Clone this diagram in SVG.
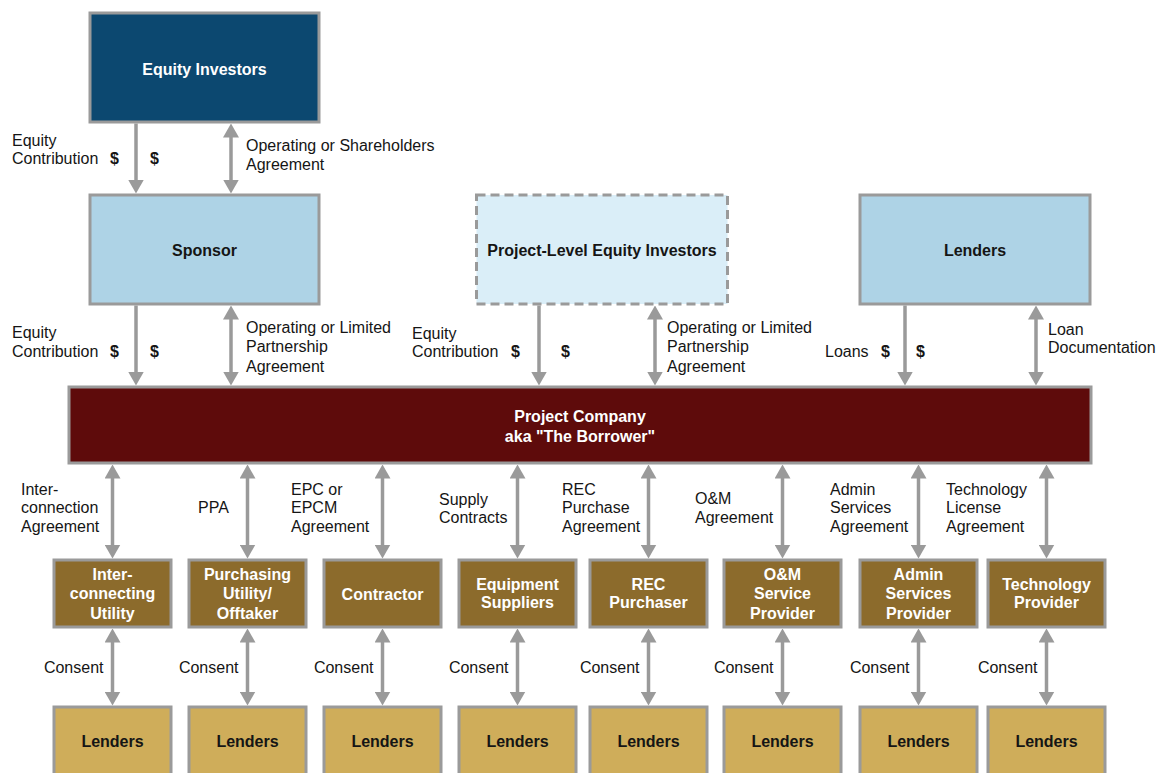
<svg xmlns="http://www.w3.org/2000/svg" width="1158" height="773" viewBox="0 0 1158 773">
<style>
.bx{stroke:#9a9a9a;stroke-width:3}
.inv{fill:#0c4870}
.lb{fill:#aed3e6}
.pl{fill:#daeef8;stroke-dasharray:9,5}
.pc{fill:#5e0b0b}
.br{fill:#8c6b2c}
.tn{fill:#cfad5a}
.t{font-family:"Liberation Sans",Arial,sans-serif;font-size:16px;fill:#151515}
.tb{font-family:"Liberation Sans",Arial,sans-serif;font-size:16px;font-weight:bold;text-anchor:middle}
.w{fill:#ffffff}
.d{fill:#151515}
.e{text-anchor:end}
.c{stroke:#9a9a9a;stroke-width:3.5;fill:none}
</style>
<defs>
<marker id="ah" viewBox="0 0 14 16" refX="10" refY="8" markerWidth="14" markerHeight="16" markerUnits="userSpaceOnUse" orient="auto-start-reverse"><path d="M0,0 L14,8 L0,16 z" fill="#9a9a9a"/></marker>
</defs>
<rect width="1158" height="773" fill="#ffffff"/>

<g id="connectors">
<line class="c" x1="136" y1="123.5" x2="136" y2="189.5" marker-end="url(#ah)"/>
<line class="c" x1="231" y1="127.5" x2="231" y2="189.5" marker-start="url(#ah)" marker-end="url(#ah)"/>
<line class="c" x1="136" y1="305.5" x2="136" y2="381.5" marker-end="url(#ah)"/>
<line class="c" x1="231" y1="309.5" x2="231" y2="381.5" marker-start="url(#ah)" marker-end="url(#ah)"/>
<line class="c" x1="539" y1="305.5" x2="539" y2="381.5" marker-end="url(#ah)"/>
<line class="c" x1="655" y1="309.5" x2="655" y2="381.5" marker-start="url(#ah)" marker-end="url(#ah)"/>
<line class="c" x1="905" y1="305.5" x2="905" y2="381.5" marker-end="url(#ah)"/>
<line class="c" x1="1036" y1="309.5" x2="1036" y2="381.5" marker-start="url(#ah)" marker-end="url(#ah)"/>
<g id="pc-links">
<line class="c" x1="112.5" y1="468.5" x2="112.5" y2="554.5" marker-start="url(#ah)" marker-end="url(#ah)"/>
<line class="c" x1="247.5" y1="468.5" x2="247.5" y2="554.5" marker-start="url(#ah)" marker-end="url(#ah)"/>
<line class="c" x1="382.5" y1="468.5" x2="382.5" y2="554.5" marker-start="url(#ah)" marker-end="url(#ah)"/>
<line class="c" x1="517.5" y1="468.5" x2="517.5" y2="554.5" marker-start="url(#ah)" marker-end="url(#ah)"/>
<line class="c" x1="648.5" y1="468.5" x2="648.5" y2="554.5" marker-start="url(#ah)" marker-end="url(#ah)"/>
<line class="c" x1="782.5" y1="468.5" x2="782.5" y2="554.5" marker-start="url(#ah)" marker-end="url(#ah)"/>
<line class="c" x1="918.5" y1="468.5" x2="918.5" y2="554.5" marker-start="url(#ah)" marker-end="url(#ah)"/>
<line class="c" x1="1046.5" y1="468.5" x2="1046.5" y2="554.5" marker-start="url(#ah)" marker-end="url(#ah)"/>
</g>
<g id="consent-links">
<line class="c" x1="112.5" y1="632.5" x2="112.5" y2="701.5" marker-start="url(#ah)" marker-end="url(#ah)"/>
<line class="c" x1="247.5" y1="632.5" x2="247.5" y2="701.5" marker-start="url(#ah)" marker-end="url(#ah)"/>
<line class="c" x1="382.5" y1="632.5" x2="382.5" y2="701.5" marker-start="url(#ah)" marker-end="url(#ah)"/>
<line class="c" x1="517.5" y1="632.5" x2="517.5" y2="701.5" marker-start="url(#ah)" marker-end="url(#ah)"/>
<line class="c" x1="648.5" y1="632.5" x2="648.5" y2="701.5" marker-start="url(#ah)" marker-end="url(#ah)"/>
<line class="c" x1="782.5" y1="632.5" x2="782.5" y2="701.5" marker-start="url(#ah)" marker-end="url(#ah)"/>
<line class="c" x1="918.5" y1="632.5" x2="918.5" y2="701.5" marker-start="url(#ah)" marker-end="url(#ah)"/>
<line class="c" x1="1046.5" y1="632.5" x2="1046.5" y2="701.5" marker-start="url(#ah)" marker-end="url(#ah)"/>
</g>
<g id="connector-labels">
<text class="t" x="12" y="145.5">Equity</text>
<text class="t" x="12" y="164">Contribution</text>
<text class="t" x="110" y="164" font-weight="bold">$</text>
<text class="t" x="150" y="164" font-weight="bold">$</text>
<text class="t" x="246" y="151">Operating or Shareholders</text>
<text class="t" x="246" y="169.5">Agreement</text>

<text class="t" x="12" y="337.5">Equity</text>
<text class="t" x="12" y="356.5">Contribution</text>
<text class="t" x="110" y="356.5" font-weight="bold">$</text>
<text class="t" x="150" y="356.5" font-weight="bold">$</text>
<text class="t" x="246" y="333">Operating or Limited</text>
<text class="t" x="246" y="351.5">Partnership</text>
<text class="t" x="246" y="371.5">Agreement</text>

<text class="t" x="412" y="338.5">Equity</text>
<text class="t" x="412" y="356.5">Contribution</text>
<text class="t" x="511" y="356.5" font-weight="bold">$</text>
<text class="t" x="561" y="356.5" font-weight="bold">$</text>
<text class="t" x="667" y="333">Operating or Limited</text>
<text class="t" x="667" y="351.5">Partnership</text>
<text class="t" x="667" y="371.5">Agreement</text>

<text class="t" x="825" y="356.5">Loans</text>
<text class="t" x="881" y="356.5" font-weight="bold">$</text>
<text class="t" x="916" y="356.5" font-weight="bold">$</text>
<text class="t" x="1048" y="335">Loan</text>
<text class="t" x="1048" y="353">Documentation</text>

<text class="t" x="21" y="494.5">Inter-</text>
<text class="t" x="21" y="513">connection</text>
<text class="t" x="21" y="531.5">Agreement</text>
<text class="t" x="198" y="513">PPA</text>
<text class="t" x="291" y="494.5">EPC or</text>
<text class="t" x="291" y="513">EPCM</text>
<text class="t" x="291" y="531.5">Agreement</text>
<text class="t" x="439" y="505">Supply</text>
<text class="t" x="439" y="523">Contracts</text>
<text class="t" x="562" y="494.5">REC</text>
<text class="t" x="562" y="513">Purchase</text>
<text class="t" x="562" y="531.5">Agreement</text>
<text class="t" x="695" y="503.5">O&amp;M</text>
<text class="t" x="695" y="523">Agreement</text>
<text class="t" x="830" y="494.5">Admin</text>
<text class="t" x="830" y="513">Services</text>
<text class="t" x="830" y="531.5">Agreement</text>
<text class="t" x="946" y="494.5">Technology</text>
<text class="t" x="946" y="513">License</text>
<text class="t" x="946" y="531.5">Agreement</text>

<text class="t e" x="103.5" y="672.5">Consent</text>
<text class="t e" x="238.5" y="672.5">Consent</text>
<text class="t e" x="373.5" y="672.5">Consent</text>
<text class="t e" x="508.5" y="672.5">Consent</text>
<text class="t e" x="639.5" y="672.5">Consent</text>
<text class="t e" x="773.5" y="672.5">Consent</text>
<text class="t e" x="909.5" y="672.5">Consent</text>
<text class="t e" x="1037.5" y="672.5">Consent</text>
</g>
</g>

<g id="equity-investors"><rect class="bx inv" x="90" y="13" width="229" height="109"/><text class="tb w" x="204.5" y="74.5">Equity Investors</text></g>
<g id="sponsor"><rect class="bx lb" x="90" y="195" width="229" height="109"/><text class="tb d" x="204.5" y="256">Sponsor</text></g>
<g id="project-level-equity"><rect class="bx pl" x="476.5" y="195" width="251" height="109"/><text class="tb d" x="602" y="256">Project-Level Equity Investors</text></g>
<g id="lenders-top"><rect class="bx lb" x="860" y="195" width="230" height="109"/><text class="tb d" x="975" y="256">Lenders</text></g>
<g id="project-company"><rect class="bx pc" x="69" y="387" width="1022" height="76"/><text class="tb w" x="580" y="421.5">Project Company</text><text class="tb w" x="580" y="441.5">aka "The Borrower"</text></g>

<g id="interconnecting-utility"><rect class="bx br" x="54" y="560" width="117" height="67"/><text class="tb w" x="112.5" y="579.5">Inter-</text><text class="tb w" x="112.5" y="599">connecting</text><text class="tb w" x="112.5" y="618.5">Utility</text></g>
<g id="purchasing-utility"><rect class="bx br" x="189" y="560" width="117" height="67"/><text class="tb w" x="247.5" y="579.5">Purchasing</text><text class="tb w" x="247.5" y="599">Utility/</text><text class="tb w" x="247.5" y="618.5">Offtaker</text></g>
<g id="contractor"><rect class="bx br" x="324" y="560" width="117" height="67"/><text class="tb w" x="382.5" y="600">Contractor</text></g>
<g id="equipment-suppliers"><rect class="bx br" x="459" y="560" width="117" height="67"/><text class="tb w" x="517.5" y="589.5">Equipment</text><text class="tb w" x="517.5" y="608">Suppliers</text></g>
<g id="rec-purchaser"><rect class="bx br" x="590" y="560" width="117" height="67"/><text class="tb w" x="648.5" y="589.5">REC</text><text class="tb w" x="648.5" y="608">Purchaser</text></g>
<g id="om-provider"><rect class="bx br" x="724" y="560" width="117" height="67"/><text class="tb w" x="782.5" y="579.5">O&amp;M</text><text class="tb w" x="782.5" y="599">Service</text><text class="tb w" x="782.5" y="618.5">Provider</text></g>
<g id="admin-provider"><rect class="bx br" x="860" y="560" width="117" height="67"/><text class="tb w" x="918.5" y="579.5">Admin</text><text class="tb w" x="918.5" y="599">Services</text><text class="tb w" x="918.5" y="618.5">Provider</text></g>
<g id="technology-provider"><rect class="bx br" x="988" y="560" width="117" height="67"/><text class="tb w" x="1046.5" y="589.5">Technology</text><text class="tb w" x="1046.5" y="608">Provider</text></g>

<g id="lenders-1"><rect class="bx tn" x="54" y="707" width="117" height="72"/><text class="tb d" x="112.5" y="747">Lenders</text></g>
<g id="lenders-2"><rect class="bx tn" x="189" y="707" width="117" height="72"/><text class="tb d" x="247.5" y="747">Lenders</text></g>
<g id="lenders-3"><rect class="bx tn" x="324" y="707" width="117" height="72"/><text class="tb d" x="382.5" y="747">Lenders</text></g>
<g id="lenders-4"><rect class="bx tn" x="459" y="707" width="117" height="72"/><text class="tb d" x="517.5" y="747">Lenders</text></g>
<g id="lenders-5"><rect class="bx tn" x="590" y="707" width="117" height="72"/><text class="tb d" x="648.5" y="747">Lenders</text></g>
<g id="lenders-6"><rect class="bx tn" x="724" y="707" width="117" height="72"/><text class="tb d" x="782.5" y="747">Lenders</text></g>
<g id="lenders-7"><rect class="bx tn" x="860" y="707" width="117" height="72"/><text class="tb d" x="918.5" y="747">Lenders</text></g>
<g id="lenders-8"><rect class="bx tn" x="988" y="707" width="117" height="72"/><text class="tb d" x="1046.5" y="747">Lenders</text></g>
</svg>
